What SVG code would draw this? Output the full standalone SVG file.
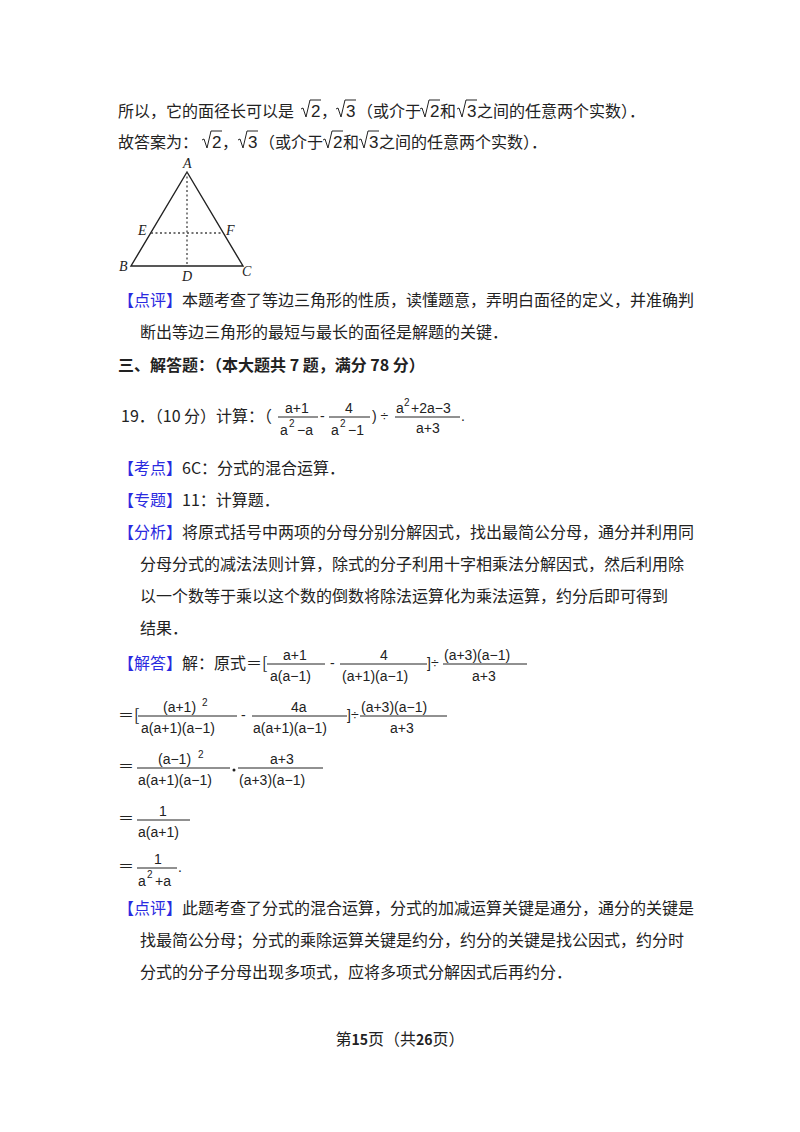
<svg xmlns="http://www.w3.org/2000/svg" width="800" height="1132" viewBox="0 0 800 1132">
<style>
.t{font-family:"Noto Sans CJK SC","Liberation Serif",serif;font-size:16px;fill:#222}
.m{font-family:"Liberation Sans",sans-serif;font-size:14px;fill:#222}
.s{font-family:"Liberation Sans",sans-serif;font-size:10px;fill:#222}
.n{font-family:"Liberation Sans",sans-serif;font-size:17px;fill:#222}
.l{font-family:"Liberation Serif",serif;font-style:italic;font-size:14px;fill:#222}
.b{fill:#2a2ae0}
.fl{stroke:#222;stroke-width:1}
.rad{fill:none;stroke:#222;stroke-width:1}
</style>
<rect width="800" height="1132" fill="#fff"/>
<!-- line 1 -->
<text class="t" x="118" y="117">所以，它的面径长可以是</text>
<path class="rad" d="M301,109 l2,-1 l3,9 l4,-17 h11"/><text class="n" x="311" y="117">2</text><text class="t" x="321" y="117">，</text>
<path class="rad" d="M336,109 l2,-1 l3,9 l4,-17 h11"/><text class="n" x="346" y="117">3</text>
<text class="t" x="357" y="117">（或介于</text>
<path class="rad" d="M420,109 l2,-1 l3,9 l4,-17 h11"/><text class="n" x="430" y="117">2</text><text class="t" x="440" y="117">和</text>
<path class="rad" d="M457,109 l2,-1 l3,9 l4,-17 h11"/><text class="n" x="467" y="117">3</text>
<text class="t" x="477" y="117">之间的任意两个实数）．</text>
<!-- line 2 -->
<text class="t" x="118" y="148">故答案为：</text>
<path class="rad" d="M202,140 l2,-1 l3,9 l4,-17 h11"/><text class="n" x="212" y="148">2</text><text class="t" x="222" y="148">，</text>
<path class="rad" d="M238,140 l2,-1 l3,9 l4,-17 h11"/><text class="n" x="248" y="148">3</text>
<text class="t" x="259" y="148">（或介于</text>
<path class="rad" d="M323,140 l2,-1 l3,9 l4,-17 h11"/><text class="n" x="333" y="148">2</text><text class="t" x="343" y="148">和</text>
<path class="rad" d="M359,140 l2,-1 l3,9 l4,-17 h11"/><text class="n" x="369" y="148">3</text>
<text class="t" x="379" y="148">之间的任意两个实数）．</text>
<!-- triangle -->
<g id="triangle">
<path d="M187,172 L131,266 L243,266 Z" fill="none" stroke="#222" stroke-width="1.4"/>
<line x1="187" y1="172" x2="187" y2="266" stroke="#444" stroke-width="1.3" stroke-dasharray="2,2.5"/>
<line x1="151" y1="233" x2="223" y2="233" stroke="#444" stroke-width="1.3" stroke-dasharray="2,2.5"/>
<text class="l" x="183" y="168">A</text>
<text class="l" x="119" y="271">B</text>
<text class="l" x="242" y="276">C</text>
<text class="l" x="182" y="281">D</text>
<text class="l" x="138" y="235">E</text>
<text class="l" x="226" y="235">F</text>
</g>
<text class="t" x="118" y="306"><tspan class="b">【点评】</tspan>本题考查了等边三角形的性质，读懂题意，弄明白面径的定义，并准确判</text>
<text class="t" x="140" y="338">断出等边三角形的最短与最长的面径是解题的关键．</text>
<text class="t" x="118" y="371" font-weight="bold">三、解答题：（本大题共 7 题，满分 78 分）</text>
<!-- 19 -->
<text class="t" x="121" y="422">19．（10 分）计算：（</text>
<text class="m" x="285" y="413">a+1</text><line class="fl" x1="278" y1="417" x2="318" y2="417"/><text class="m" x="280" y="435">a</text><text class="s" x="289" y="427">2</text><text class="m" x="297" y="435">−a</text>
<text class="m" x="320" y="421">-</text>
<text class="m" x="345" y="413">4</text><line class="fl" x1="329" y1="417" x2="370" y2="417"/><text class="m" x="331" y="435">a</text><text class="s" x="340" y="427">2</text><text class="m" x="348" y="435">−1</text>
<text class="m" x="372" y="421">) ÷</text>
<text class="m" x="396" y="413">a</text><text class="s" x="404" y="406">2</text><text class="m" x="411" y="413">+2a−3</text><line class="fl" x1="395" y1="417" x2="460" y2="417"/><text class="m" x="416" y="433">a+3</text>
<text class="m" x="461" y="421">.</text>
<text class="t" x="118" y="474"><tspan class="b">【考点】</tspan>6C：分式的混合运算．</text>
<text class="t" x="118" y="506"><tspan class="b">【专题】</tspan>11：计算题．</text>
<text class="t" x="118" y="538"><tspan class="b">【分析】</tspan>将原式括号中两项的分母分别分解因式，找出最简公分母，通分并利用同</text>
<text class="t" x="140" y="570">分母分式的减法法则计算，除式的分子利用十字相乘法分解因式，然后利用除</text>
<text class="t" x="140" y="602">以一个数等于乘以这个数的倒数将除法运算化为乘法运算，约分后即可得到</text>
<text class="t" x="140" y="634">结果．</text>
<!-- solution -->
<text class="t" x="118" y="669"><tspan class="b">【解答】</tspan>解：原式＝[</text>
<text class="m" x="283" y="660">a+1</text><line class="fl" x1="267" y1="664" x2="325" y2="664"/><text class="m" x="270" y="681">a(a−1)</text>
<text class="m" x="330" y="668">-</text>
<text class="m" x="380" y="660">4</text><line class="fl" x1="340" y1="664" x2="427" y2="664"/><text class="m" x="342" y="681">(a+1)(a−1)</text>
<text class="m" x="427" y="668">]÷</text>
<text class="m" x="444" y="660">(a+3)(a−1)</text><line class="fl" x1="443" y1="664" x2="527" y2="664"/><text class="m" x="472" y="681">a+3</text>
<text class="t" x="118" y="721">＝[</text>
<text class="m" x="163" y="712">(a+1)</text><text class="s" x="202" y="706">2</text><line class="fl" x1="138" y1="716" x2="237" y2="716"/><text class="m" x="141" y="733">a(a+1)(a−1)</text>
<text class="m" x="241" y="720">-</text>
<text class="m" x="291" y="712">4a</text><line class="fl" x1="252" y1="716" x2="347" y2="716"/><text class="m" x="253" y="733">a(a+1)(a−1)</text>
<text class="m" x="347" y="720">]÷</text>
<text class="m" x="361" y="712">(a+3)(a−1)</text><line class="fl" x1="360" y1="716" x2="447" y2="716"/><text class="m" x="390" y="733">a+3</text>
<text class="t" x="118" y="772">＝</text>
<text class="m" x="158" y="764">(a−1)</text><text class="s" x="198" y="758">2</text><line class="fl" x1="137" y1="768" x2="230" y2="768"/><text class="m" x="138" y="785">a(a+1)(a−1)</text>
<circle cx="234" cy="770" r="1.5" fill="#222"/>
<text class="m" x="270" y="764">a+3</text><line class="fl" x1="238" y1="768" x2="323" y2="768"/><text class="m" x="239" y="785">(a+3)(a−1)</text>
<text class="t" x="118" y="824">＝</text>
<text class="m" x="159" y="816">1</text><line class="fl" x1="137" y1="820" x2="190" y2="820"/><text class="m" x="138" y="837">a(a+1)</text>
<text class="t" x="118" y="872">＝</text>
<text class="m" x="154" y="864">1</text><line class="fl" x1="137" y1="868" x2="177" y2="868"/><text class="m" x="138" y="886">a</text><text class="s" x="147" y="878">2</text><text class="m" x="155" y="886">+a</text>
<text class="m" x="178" y="872">.</text>
<text class="t" x="118" y="914"><tspan class="b">【点评】</tspan>此题考查了分式的混合运算，分式的加减运算关键是通分，通分的关键是</text>
<text class="t" x="140" y="946">找最简公分母；分式的乘除运算关键是约分，约分的关键是找公因式，约分时</text>
<text class="t" x="140" y="978">分式的分子分母出现多项式，应将多项式分解因式后再约分．</text>
<text class="t" x="400" y="1045" text-anchor="middle" font-size="12">第<tspan font-weight="bold" font-size="14">15</tspan>页（共<tspan font-weight="bold" font-size="14">26</tspan>页）</text>
</svg>
